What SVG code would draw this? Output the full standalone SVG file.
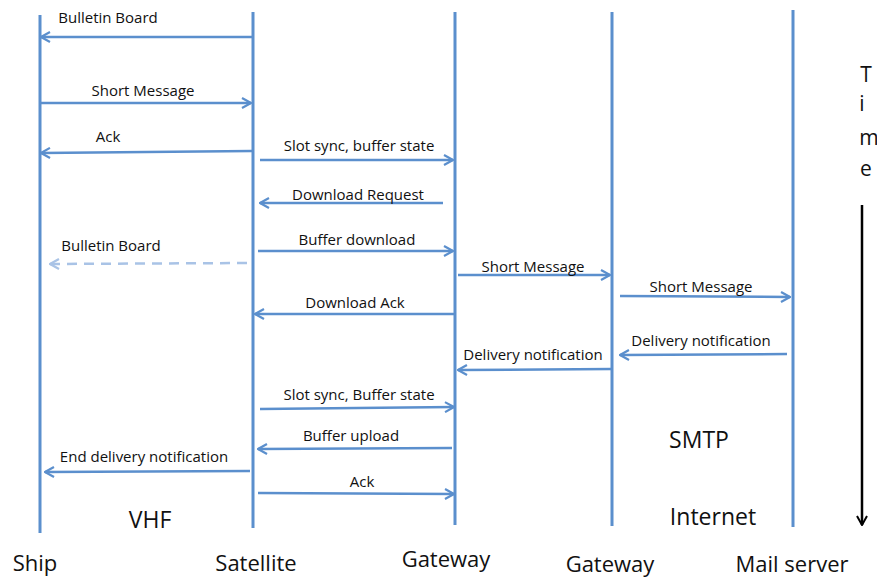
<svg xmlns="http://www.w3.org/2000/svg" width="877" height="579" viewBox="0 0 877 579">
  <style>
    .life { stroke: #5b8fcd; stroke-width: 3; fill: none; }
    .msg { stroke: #5b8fcd; stroke-width: 2.5; fill: none; marker-end: url(#head); }
    .dash { stroke: #a9c3e6; stroke-width: 2.5; fill: none; stroke-dasharray: 10 7; marker-end: url(#headLight); }
    .lbl { font-family: "Open Sans", "Liberation Sans", sans-serif; font-size: 15px; fill: #111; text-anchor: middle; }
    .big { font-family: "Open Sans", "Liberation Sans", sans-serif; font-size: 23px; fill: #111; text-anchor: middle; }
    .time { font-family: "Open Sans", "Liberation Sans", sans-serif; font-size: 21px; fill: #111; text-anchor: middle; }
    .name { font-family: "Open Sans", "Liberation Sans", sans-serif; font-size: 22px; fill: #111; text-anchor: middle; }
  </style>
  <defs>
    <marker id="head" viewBox="0 0 12 12" refX="11" refY="6" markerWidth="12" markerHeight="12" markerUnits="userSpaceOnUse" orient="auto">
      <path d="M2 1 L11 6 L2 11" fill="none" stroke="#5b8fcd" stroke-width="2.2"/>
    </marker>
    <marker id="headLight" viewBox="0 0 12 12" refX="11" refY="6" markerWidth="12" markerHeight="12" markerUnits="userSpaceOnUse" orient="auto">
      <path d="M2 1 L11 6 L2 11" fill="none" stroke="#a9c3e6" stroke-width="2.2"/>
    </marker>
    <marker id="timeHead" viewBox="0 0 12 12" refX="11" refY="6" markerWidth="12" markerHeight="12" markerUnits="userSpaceOnUse" orient="auto">
      <path d="M2 1 L11 6 L2 11" fill="none" stroke="#000" stroke-width="2"/>
    </marker>
  </defs>

  <rect width="877" height="579" fill="#fff"/>

  <!-- lifelines with participant names -->
  <g id="ship">
    <line class="life" x1="40" y1="15" x2="40" y2="533"/>
    <text class="name" x="35" y="571">Ship</text>
  </g>
  <g id="satellite">
    <line class="life" x1="253" y1="12" x2="253" y2="528"/>
    <text class="name" x="256" y="571">Satellite</text>
  </g>
  <g id="gateway-1">
    <line class="life" x1="455" y1="12" x2="455" y2="525"/>
    <text class="name" x="446" y="567">Gateway</text>
  </g>
  <g id="gateway-2">
    <line class="life" x1="612" y1="12" x2="612" y2="526"/>
    <text class="name" x="610" y="572">Gateway</text>
  </g>
  <g id="mail-server">
    <line class="life" x1="793" y1="10" x2="793" y2="527"/>
    <text class="name" x="792" y="572">Mail server</text>
  </g>

  <!-- messages -->
  <g id="connectors">
    <line class="msg" x1="253" y1="37" x2="41" y2="37"/>
    <line class="msg" x1="40" y1="103" x2="251" y2="103"/>
    <line class="msg" x1="252" y1="151" x2="41" y2="153"/>
    <line class="msg" x1="260" y1="160" x2="453" y2="160"/>
    <line class="msg" x1="443" y1="203" x2="260" y2="203"/>
    <line class="msg" x1="258" y1="251" x2="453" y2="251"/>
    <line class="dash" x1="247" y1="263" x2="50" y2="264"/>
    <line class="msg" x1="458" y1="275" x2="610" y2="275"/>
    <line class="msg" x1="620" y1="296" x2="790" y2="297"/>
    <line class="msg" x1="455" y1="314" x2="255" y2="314"/>
    <line class="msg" x1="787" y1="354" x2="620" y2="355"/>
    <line class="msg" x1="612" y1="369" x2="458" y2="370"/>
    <line class="msg" x1="260" y1="409" x2="454" y2="407"/>
    <line class="msg" x1="452" y1="448" x2="258" y2="449"/>
    <line class="msg" x1="250" y1="471" x2="45" y2="472"/>
    <line class="msg" x1="258" y1="493" x2="454" y2="494"/>
  </g>

  <!-- message labels -->
  <g id="labels">
    <text class="lbl" x="108" y="23">Bulletin Board</text>
    <text class="lbl" x="143" y="96">Short Message</text>
    <text class="lbl" x="108" y="142">Ack</text>
    <text class="lbl" x="359" y="151">Slot sync, buffer state</text>
    <text class="lbl" x="358" y="200">Download Request</text>
    <text class="lbl" x="357" y="245">Buffer download</text>
    <text class="lbl" x="111" y="251">Bulletin Board</text>
    <text class="lbl" x="533" y="272">Short Message</text>
    <text class="lbl" x="701" y="292">Short Message</text>
    <text class="lbl" x="355" y="308">Download Ack</text>
    <text class="lbl" x="701" y="346">Delivery notification</text>
    <text class="lbl" x="533" y="360">Delivery notification</text>
    <text class="lbl" x="359" y="400">Slot sync, Buffer state</text>
    <text class="lbl" x="351" y="441">Buffer upload</text>
    <text class="lbl" x="144" y="462">End delivery notification</text>
    <text class="lbl" x="362" y="487">Ack</text>
  </g>

  <!-- network segment labels -->
  <text class="big" x="150" y="528">VHF</text>
  <text class="big" x="699" y="448">SMTP</text>
  <text class="big" x="713" y="525">Internet</text>

  <!-- time axis -->
  <g id="time">
    <text class="time" x="866" y="82">T</text>
    <text class="time" x="862" y="111">i</text>
    <text class="time" x="869" y="145">m</text>
    <text class="time" x="866" y="176">e</text>
    <line x1="862" y1="205" x2="862" y2="525" stroke="#000" stroke-width="2.5" marker-end="url(#timeHead)"/>
  </g>
</svg>
